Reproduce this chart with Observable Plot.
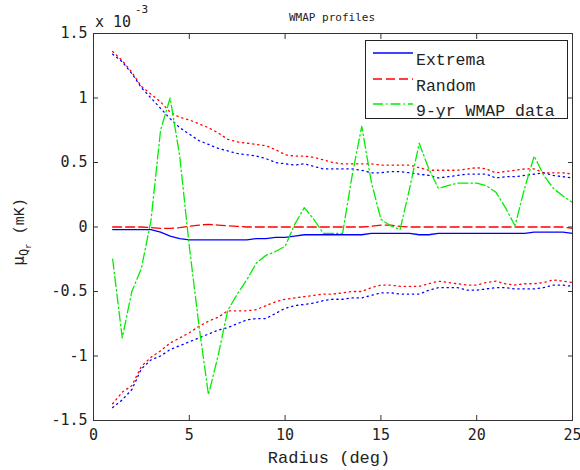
<!DOCTYPE html>
<html>
<head>
<meta charset="utf-8">
<script src="https://cdn.jsdelivr.net/npm/d3@7"></script>
<script src="https://cdn.jsdelivr.net/npm/@observablehq/plot@0.6"></script>
<style>
  html, body { margin: 0; padding: 0; background: #fff; }
  #wrap { position: relative; width: 580px; height: 470px; }
</style>
</head>
<body>
<div id="wrap"></div>
<script>
// ---- data (values in units of 1e-3 mK) ----
const radius = [1,1.5,2,2.5,3,3.5,4,4.5,5,5.5,6,6.5,7,7.5,8,8.5,9,9.5,10,10.5,11,11.5,12,12.5,13,13.5,14,14.5,15,15.5,16,16.5,17,17.5,18,18.5,19,19.5,20,20.5,21,21.5,22,22.5,23,23.5,24,24.5,25];

const extrema = [-0.02,-0.02,-0.02,-0.02,-0.02,-0.04,-0.07,-0.09,-0.10,-0.10,
  -0.10,-0.10,-0.10,-0.10,-0.10,-0.09,-0.09,-0.08,-0.08,-0.07,
  -0.06,-0.06,-0.06,-0.06,-0.06,-0.06,-0.06,-0.05,-0.05,-0.05,
  -0.05,-0.05,-0.06,-0.06,-0.05,-0.05,-0.05,-0.05,-0.05,-0.05,
  -0.05,-0.05,-0.05,-0.05,-0.04,-0.04,-0.04,-0.04,-0.05];

const random = [0,0,0,0,-0.005,-0.01,-0.01,-0.005,0.005,0.015,
  0.02,0.015,0.01,0.005,0,0,0,0,0,0,
  0,0,0,0,0,0,0,0.005,0.015,0.015,
  0.005,0,0,0,0,0,0,0,0,0,
  0,0,0,0,0,0,0,0,-0.01];

const wmap9 = [-0.25,-0.86,-0.50,-0.32,0.05,0.75,1.00,0.55,-0.15,-0.76,
  -1.30,-1.00,-0.65,-0.52,-0.41,-0.28,-0.22,-0.19,-0.15,0.02,
  0.15,0.06,-0.05,-0.05,-0.05,0.40,0.78,0.35,0.06,0.01,
  -0.02,0.30,0.65,0.45,0.30,0.32,0.34,0.34,0.34,0.32,
  0.27,0.15,0.01,0.30,0.55,0.40,0.30,0.24,0.19];

const randomUpper = [1.36,1.29,1.20,1.09,1.03,0.97,0.89,0.85,0.83,0.80,
  0.77,0.73,0.68,0.66,0.65,0.64,0.63,0.60,0.56,0.55,
  0.55,0.54,0.52,0.50,0.49,0.49,0.49,0.49,0.48,0.48,
  0.48,0.48,0.46,0.44,0.44,0.44,0.44,0.45,0.46,0.45,
  0.42,0.43,0.44,0.45,0.45,0.42,0.42,0.42,0.41];

const extremaUpper = [1.34,1.28,1.19,1.08,1.00,0.92,0.84,0.77,0.72,0.67,
  0.64,0.61,0.59,0.57,0.56,0.55,0.53,0.50,0.49,0.48,
  0.49,0.47,0.45,0.45,0.45,0.45,0.44,0.42,0.42,0.43,
  0.43,0.42,0.41,0.40,0.38,0.39,0.40,0.41,0.41,0.41,
  0.38,0.39,0.39,0.40,0.41,0.42,0.40,0.39,0.38];

const randomLower = [-1.37,-1.28,-1.23,-1.08,-1.01,-0.96,-0.90,-0.86,-0.82,-0.77,
  -0.73,-0.70,-0.65,-0.65,-0.65,-0.64,-0.61,-0.58,-0.56,-0.55,
  -0.54,-0.53,-0.52,-0.52,-0.51,-0.50,-0.50,-0.47,-0.45,-0.45,
  -0.46,-0.46,-0.46,-0.44,-0.42,-0.43,-0.44,-0.45,-0.45,-0.43,
  -0.42,-0.44,-0.45,-0.44,-0.44,-0.43,-0.41,-0.42,-0.43];

const extremaLower = [-1.40,-1.34,-1.26,-1.10,-1.03,-1.00,-0.95,-0.92,-0.89,-0.86,
  -0.83,-0.80,-0.78,-0.75,-0.72,-0.71,-0.71,-0.67,-0.63,-0.61,
  -0.60,-0.59,-0.57,-0.56,-0.56,-0.55,-0.55,-0.53,-0.51,-0.51,
  -0.52,-0.52,-0.52,-0.49,-0.47,-0.47,-0.47,-0.49,-0.49,-0.48,
  -0.47,-0.47,-0.48,-0.48,-0.48,-0.47,-0.45,-0.45,-0.46];

const xTicks = [0,5,10,15,20,25];
const yTicks = [-1.5,-1,-0.5,0,0.5,1,1.5];
const xTickLabels = ["0","5","10","15","20","25"];
const yTickLabels = ["-1.5","-1","-0.5","0","0.5","1","1.5"];

const seriesNames = ["Extrema","Random","9-yr WMAP data"];
const title = "WMAP profiles";
const xLabel = "Radius (deg)";

// ---- build ----
const rows = arr => radius.map((r, i) => ({r, v: arr[i]}));
const BLUE = "#0000ff", RED = "#ff0000", GREEN = "#00ee00";
const DOT = "1.3,3.8";
const MONO = "'Liberation Mono', 'Courier New', monospace";
const TICKFONT = "'DejaVu Sans Mono', monospace";

const chart = Plot.plot({
  width: 580,
  height: 470,
  marginLeft: 93,
  marginRight: 8,
  marginTop: 33,
  marginBottom: 50,
  style: {fontFamily: TICKFONT, fontSize: "15px", background: "#fff", color: "#222"},
  x: {domain: [0, 25]},
  y: {domain: [-1.5, 1.5]},
  marks: [
    Plot.line(rows(randomUpper), {x: "r", y: "v", stroke: RED, strokeWidth: 1.3, strokeDasharray: DOT}),
    Plot.line(rows(randomLower), {x: "r", y: "v", stroke: RED, strokeWidth: 1.3, strokeDasharray: DOT}),
    Plot.line(rows(extremaUpper), {x: "r", y: "v", stroke: BLUE, strokeWidth: 1.3, strokeDasharray: DOT}),
    Plot.line(rows(extremaLower), {x: "r", y: "v", stroke: BLUE, strokeWidth: 1.3, strokeDasharray: DOT}),
    Plot.line(rows(extrema), {x: "r", y: "v", stroke: BLUE, strokeWidth: 1.3}),
    Plot.line(rows(random), {x: "r", y: "v", stroke: RED, strokeWidth: 1.3, strokeDasharray: "9,4"}),
    Plot.line(rows(wmap9), {x: "r", y: "v", stroke: GREEN, strokeWidth: 1.3, strokeDasharray: "10,3,1.5,3"}),
    Plot.frame({stroke: "#333", strokeWidth: 1}),
    // tick marks inside on all four sides
    Plot.axisX({ticks: xTicks, anchor: "bottom", tickSize: -5, text: null, label: null, stroke: "#333"}),
    Plot.axisX({ticks: xTicks, anchor: "top", tickSize: -5, text: null, label: null, stroke: "#333"}),
    Plot.axisY({ticks: yTicks, anchor: "left", tickSize: -5, text: null, label: null, stroke: "#333"}),
    Plot.axisY({ticks: yTicks, anchor: "right", tickSize: -5, text: null, label: null, stroke: "#333"}),
    // tick labels
    Plot.axisX({ticks: xTicks, anchor: "bottom", tickSize: 0, tickPadding: 9, label: null,
      tickFormat: d => xTickLabels[xTicks.indexOf(d)], fill: "#222"}),
    Plot.axisY({ticks: yTicks, anchor: "left", tickSize: 0, tickPadding: 6, label: null,
      tickFormat: d => yTickLabels[yTicks.indexOf(d)], fill: "#222"})
  ]
});

const wrap = document.getElementById("wrap");
wrap.appendChild(chart);

// extra texts (title, exponent, axis labels)
const svg = d3.select(chart);
svg.append("text").attr("x", 332).attr("y", 21).attr("text-anchor", "middle")
  .attr("font-size", 11).attr("font-family", TICKFONT).attr("fill", "#222").text(title);
svg.append("text").attr("x", 95).attr("y", 27).attr("text-anchor", "start").attr("font-size", 15)
  .attr("font-family", TICKFONT).attr("fill", "#222").text("x 10");
svg.append("text").attr("x", 135).attr("y", 13).attr("text-anchor", "start").attr("font-size", 11)
  .attr("font-family", TICKFONT).attr("fill", "#222").text("-3");
svg.append("text").attr("x", 329).attr("y", 463).attr("text-anchor", "middle")
  .attr("font-size", 17).attr("font-family", MONO).attr("fill", "#222").text(xLabel);
const yl = svg.append("text").attr("transform", "translate(24,232) rotate(-90)")
  .attr("text-anchor", "middle").attr("font-family", MONO).attr("fill", "#222").attr("font-size", 17);
yl.append("tspan").attr("font-family", TICKFONT).attr("font-size", 16).text("μ");
yl.append("tspan").attr("font-family", TICKFONT).attr("font-size", 12).attr("dy", 4).text("Q");
yl.append("tspan").attr("font-size", 9).attr("dy", 3).text("r");
yl.append("tspan").attr("font-size", 15).attr("dy", -7).text(" (mK)");

// legend (inside the chart's svg, top-right of the frame)
const legendStyles = [
  {stroke: BLUE, dash: null},
  {stroke: RED, dash: "9,4"},
  {stroke: GREEN, dash: "10,3,1.5,3"}
];
const lg = svg.append("g").attr("transform", "translate(365,40)");
lg.append("rect").attr("x", 0.5).attr("y", 0.5).attr("width", 202).attr("height", 78)
  .attr("fill", "#fff").attr("stroke", "#222");
seriesNames.forEach((name, i) => {
  const ly = [13, 39, 64][i];
  lg.append("line").attr("x1", 8).attr("x2", 48).attr("y1", ly).attr("y2", ly)
    .attr("stroke", legendStyles[i].stroke).attr("stroke-width", 1.3)
    .attr("stroke-dasharray", legendStyles[i].dash);
  lg.append("text").attr("x", 51).attr("y", ly + 12).attr("text-anchor", "start")
    .attr("font-family", MONO).attr("font-size", 16.5).attr("fill", "#222").text(name);
});
</script>
</body>
</html>
